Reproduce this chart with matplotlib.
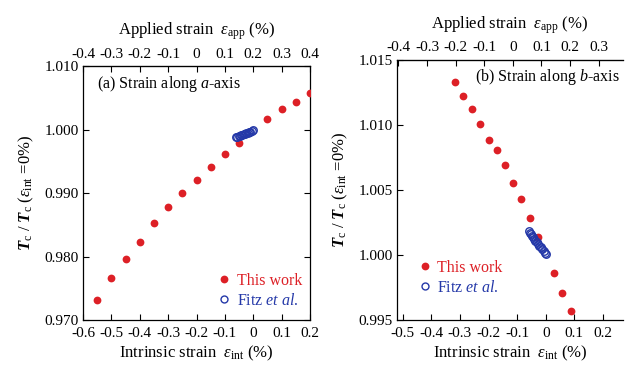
import matplotlib
matplotlib.use("Agg")
import matplotlib.pyplot as plt
from matplotlib.lines import Line2D

plt.rcParams['font.family'] = ['Liberation Serif', 'DejaVu Serif']
plt.rcParams['mathtext.fontset'] = 'custom'
plt.rcParams['mathtext.rm'] = 'Liberation Serif'
plt.rcParams['mathtext.it'] = 'Liberation Serif:italic'
plt.rcParams['mathtext.bf'] = 'Liberation Serif:bold'
plt.rcParams['mathtext.bfit'] = 'Liberation Serif:bold:italic'

RED = '#dd2026'
BLUE = '#2438a8'

# ---- Panel (a): strain along a-axis ----
a_work_x = [-0.55, -0.50, -0.45, -0.40, -0.35, -0.30, -0.25, -0.20, -0.15, -0.10, -0.05, 0.05, 0.10, 0.15, 0.20]
a_work_y = [0.97315, 0.97657, 0.97961, 0.98228, 0.98523, 0.98784, 0.99005, 0.99205, 0.99405, 0.99610, 0.99792,
            1.00165, 1.00323, 1.00438, 1.00570]
a_fitz_x = [-0.060, -0.056, -0.052, -0.047, -0.043, -0.039, -0.034, -0.030, -0.025, -0.020, -0.015, -0.010, -0.005, 0.000]
a_fitz_y = [0.99885, 0.99890, 0.99900, 0.99905, 0.99915, 0.99918, 0.99930, 0.99935, 0.99945, 0.99950, 0.99960, 0.99968, 0.99980, 0.99995]
a_offset = 0.2   # applied = intrinsic + offset

# ---- Panel (b): strain along b-axis ----
b_work_x = [-0.317, -0.288, -0.259, -0.230, -0.200, -0.171, -0.143, -0.115, -0.086, -0.056, -0.027, 0.029, 0.058, 0.088]
b_work_y = [1.01333, 1.01225, 1.01121, 1.01008, 1.00885, 1.00808, 1.00690, 1.00556, 1.00431, 1.00287, 1.00141,
            0.99859, 0.99705, 0.99569]
b_fitz_x = [-0.060, -0.056, -0.052, -0.048, -0.044, -0.040, -0.036, -0.031, -0.027, -0.022, -0.017, -0.012, -0.007, -0.002, 0.000]
b_fitz_y = [1.00185, 1.00172, 1.00160, 1.00150, 1.00135, 1.00122, 1.00110, 1.00098, 1.00085, 1.00072, 1.00058, 1.00045, 1.00032, 1.00018, 1.00008]
b_offset = 0.115

a_xticks = [-0.6, -0.5, -0.4, -0.3, -0.2, -0.1, 0, 0.1, 0.2]
a_xlabels = ['-0.6', '-0.5', '-0.4', '-0.3', '-0.2', '-0.1', '0', '0.1', '0.2']
a_topticks = [-0.4, -0.3, -0.2, -0.1, 0, 0.1, 0.2, 0.3, 0.4]
a_toplabels = ['-0.4', '-0.3', '-0.2', '-0.1', '0', '0.1', '0.2', '0.3', '0.4']
a_yticks = [0.970, 0.980, 0.990, 1.000, 1.010]
a_ylabels = ['0.970', '0.980', '0.990', '1.000', '1.010']

b_xticks = [-0.5, -0.4, -0.3, -0.2, -0.1, 0, 0.1, 0.2]
b_xlabels = ['-0.5', '-0.4', '-0.3', '-0.2', '-0.1', '0', '0.1', '0.2']
b_topticks = [-0.4, -0.3, -0.2, -0.1, 0, 0.1, 0.2, 0.3]
b_toplabels = ['-0.4', '-0.3', '-0.2', '-0.1', '0', '0.1', '0.2', '0.3']
b_yticks = [0.995, 1.000, 1.005, 1.010, 1.015]
b_ylabels = ['0.995', '1.000', '1.005', '1.010', '1.015']

fig = plt.figure(figsize=(6.4, 3.67), dpi=100)
axA = fig.add_axes([0.1297, 0.128, 0.3547, 0.692])
axB = fig.add_axes([0.6203, 0.128, 0.353, 0.7084])

FS = 11
XLAB = r'Intrinsic strain  $\varepsilon_{\rm int}$ (%)'
TLAB = r'Applied strain  $\varepsilon_{\rm app}$ (%)'
YLAB = r'$\mathbfit{T}_{\rm c}$ / $\mathbfit{T}_{\rm c}$ ($\varepsilon_{\rm int}$ =0%)'


def style(ax, xt, xl, yt, yl, xlim, ylim, off, tt, tl, show_right=True):
    ax.set_xlim(*xlim)
    ax.set_ylim(*ylim)
    ax.set_xticks(xt)
    ax.set_xticklabels(xl, fontsize=FS)
    ax.set_yticks(yt)
    ax.set_yticklabels(yl, fontsize=FS)
    ax.tick_params(direction='in', length=4, width=0.8, right=show_right)
    ax.tick_params(axis='x', pad=5)
    ax.tick_params(axis='y', pad=3)
    for s in ax.spines.values():
        s.set_linewidth(0.9)
    if not show_right:
        ax.spines['right'].set_visible(False)
    ax.set_xlabel(XLAB, fontsize=12, labelpad=3)
    ax.set_ylabel(YLAB, fontsize=12, labelpad=6)
    sec = ax.secondary_xaxis('top', functions=(lambda x: x + off, lambda x: x - off))
    sec.set_xticks(tt)
    sec.set_xticklabels(tl, fontsize=FS)
    sec.tick_params(direction='in', length=4, width=0.8, pad=4)
    sec.set_xlabel(TLAB, fontsize=12, labelpad=9)
    return sec


style(axA, a_xticks, a_xlabels, a_yticks, a_ylabels, (-0.6, 0.2), (0.970, 1.010), a_offset, a_topticks, a_toplabels)
style(axB, b_xticks, b_xlabels, b_yticks, b_ylabels, (-0.52, 0.27), (0.995, 1.015), b_offset, b_topticks, b_toplabels,
      show_right=False)

for ax, wx, wy, fx, fy in [(axA, a_work_x, a_work_y, a_fitz_x, a_fitz_y),
                           (axB, b_work_x, b_work_y, b_fitz_x, b_fitz_y)]:
    ax.plot(wx, wy, 'o', color=RED, markersize=5.6, markeredgewidth=0, zorder=3)
    ax.plot(fx, fy, 'o', markerfacecolor='none', markeredgecolor=BLUE, markersize=5.4, markeredgewidth=1.0, zorder=4)

handles = [Line2D([], [], marker='o', ls='none', color=RED, markersize=5.6, markeredgewidth=0),
           Line2D([], [], marker='o', ls='none', markerfacecolor='none', markeredgecolor=BLUE, markersize=5,
                  markeredgewidth=1.0)]
labels = ['This work', r'Fitz $\it{et\ al.}$']
for ax, loc in [(axA, (0.53, 0.0)), (axB, (0.03, 0.05))]:
    ax.legend(handles, labels, loc='lower left', bbox_to_anchor=loc, frameon=False, fontsize=11.5,
              labelcolor=[RED, BLUE], handletextpad=0.2, handlelength=1.2, borderaxespad=0.3, labelspacing=0.25)

axA.text(0.06, 0.93, r'(a) Strain along $\it{a}$-axis', transform=axA.transAxes, fontsize=11.5, va='center')
axB.text(0.345, 0.935, r'(b) Strain along $\it{b}$-axis', transform=axB.transAxes, fontsize=11.5, va='center')

fig.savefig('out.png', dpi=100)
